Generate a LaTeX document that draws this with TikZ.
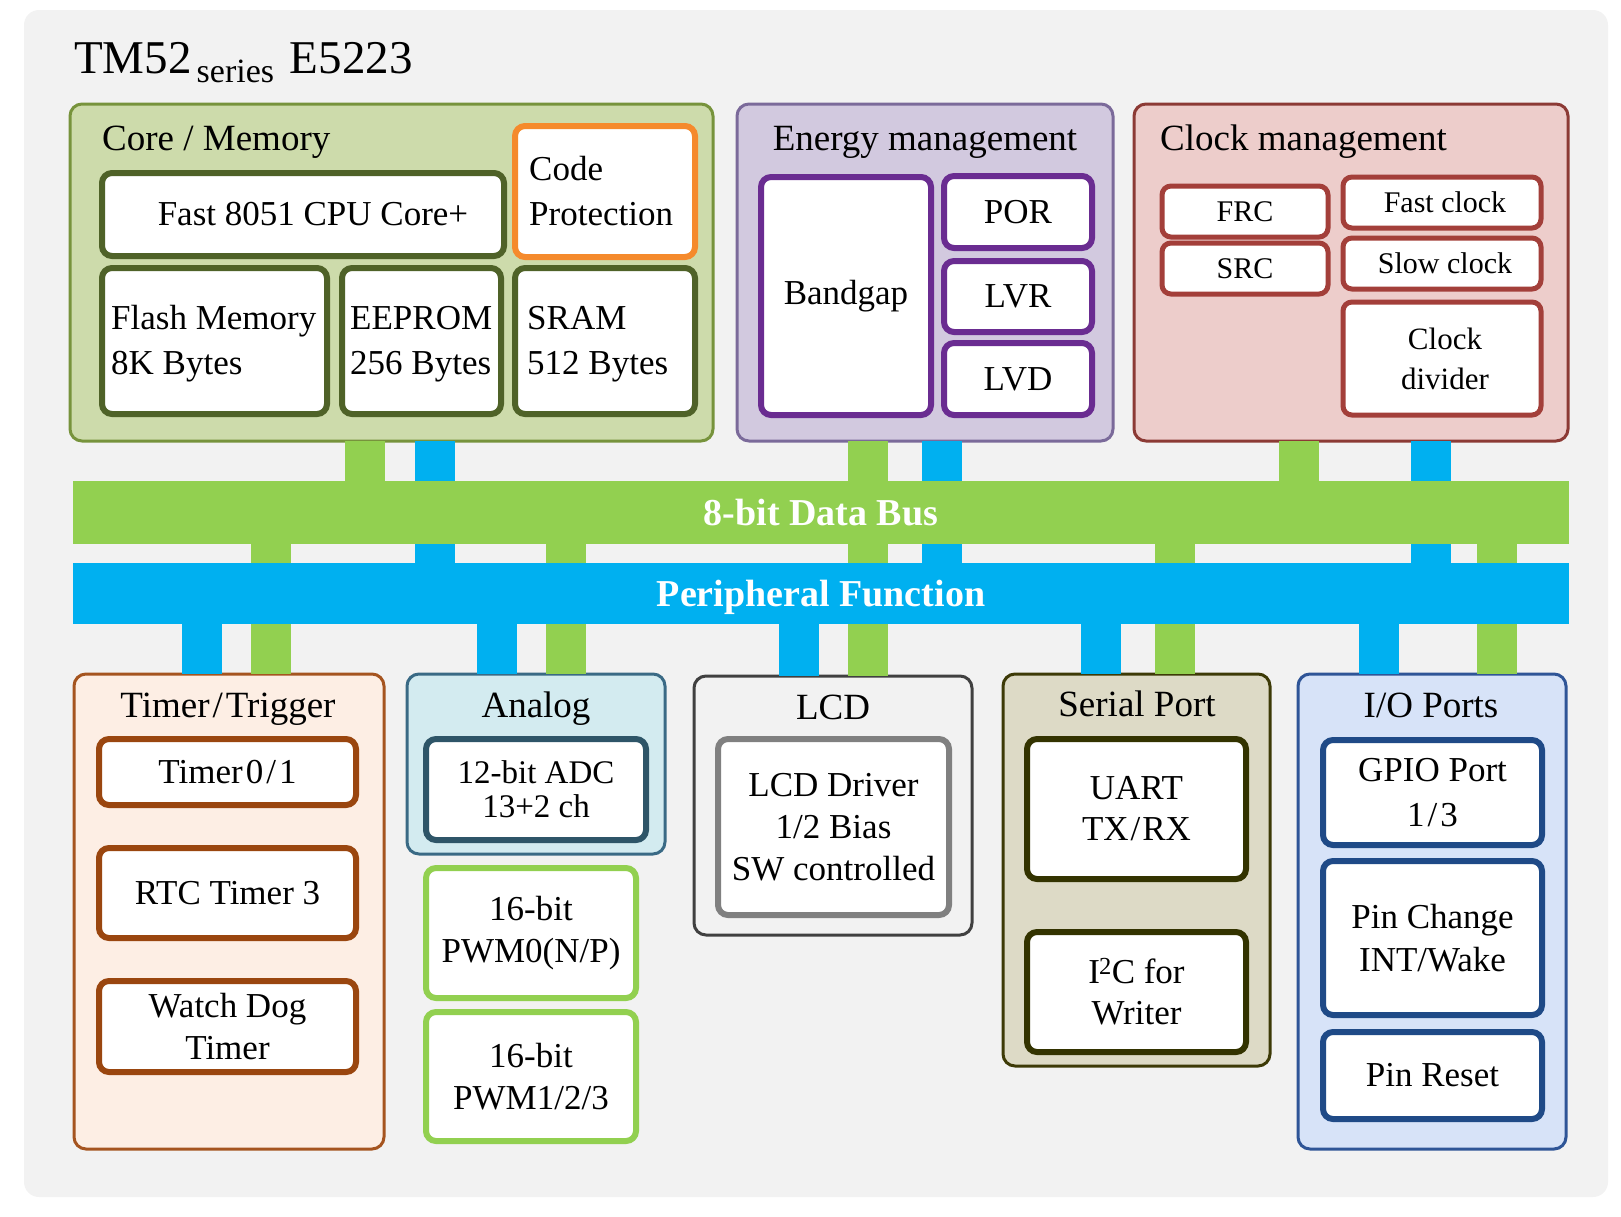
\documentclass[tikz,border=0pt]{standalone}
\usepackage{fontspec}
\setmainfont{Liberation Serif}
\definecolor{bgc}{HTML}{F2F2F2}
\definecolor{busg}{HTML}{92D050}
\definecolor{busb}{HTML}{00B0F0}
\definecolor{coreF}{HTML}{CDDBAB}
\definecolor{coreD}{HTML}{77933C}
\definecolor{coreI}{HTML}{4F6228}
\definecolor{codeO}{HTML}{F58A2C}
\definecolor{enF}{HTML}{D2C9DF}
\definecolor{enD}{HTML}{7B6A9A}
\definecolor{enI}{HTML}{6A2C91}
\definecolor{clF}{HTML}{EDCDCB}
\definecolor{clD}{HTML}{8C3A35}
\definecolor{clI}{HTML}{A33F3A}
\definecolor{tmF}{HTML}{FDEEE4}
\definecolor{tmD}{HTML}{A5541F}
\definecolor{tmI}{HTML}{9A460F}
\definecolor{anF}{HTML}{D3EBF0}
\definecolor{anD}{HTML}{3A6A85}
\definecolor{anI}{HTML}{2E5568}
\definecolor{lcdD}{HTML}{404040}
\definecolor{lcdI}{HTML}{808080}
\definecolor{spF}{HTML}{DDDAC6}
\definecolor{spD}{HTML}{3D3A07}
\definecolor{spI}{HTML}{333300}
\definecolor{ioF}{HTML}{D7E3F8}
\definecolor{ioD}{HTML}{2F5597}
\definecolor{ioI}{HTML}{1F4A87}
\begin{document}
\begin{tikzpicture}[x=1pt,y=-1pt,
  bb/.style n args={4}{anchor=north west, at={(#1,#2)}, minimum width={#3-#1}, minimum height={#4-#2}},
  grp/.style={draw, line width=3pt, rounded corners=12pt, inner sep=0pt, outer sep=0pt},
  ibox/.style={draw, fill=white, line width=6pt, rounded corners=10pt, inner sep=0pt, outer sep=0pt, align=center},
  cbox/.style={draw, fill=white, line width=5pt, rounded corners=9pt, inner sep=0pt, outer sep=0pt, align=center, font=\fontsize{30}{36}\selectfont},
  ttl/.style={inner sep=0pt, font=\fontsize{37}{44}\selectfont},
  txt/.style={font=\fontsize{35}{42}\selectfont},
  ltxt/.style={inner sep=0pt, anchor=west, align=left, font=\fontsize{35}{45}\selectfont},
  gstub/.style={draw=busg, line width=40pt},
  bstub/.style={draw=busb, line width=40pt},
  bus/.style={inner sep=0pt, outer sep=0pt, text=white, text height=26pt, text depth=0pt, font=\fontsize{38}{44}\selectfont\bfseries}]
\useasboundingbox (0,0) rectangle (1621,1216);
\fill[bgc, rounded corners=15pt] (24,10) rectangle (1608,1197);
\node[anchor=base west, inner sep=0pt, font=\fontsize{47}{50}\selectfont] (title) at (74,73)
  {TM52\kern5pt\raisebox{-9pt}{\fontsize{34}{36}\selectfont series}\kern4pt{} E5223};

% stub x positions
\coordinate (xa) at (365,0); \coordinate (xb) at (435,0);
\coordinate (xc) at (868,0); \coordinate (xd) at (942,0);
\coordinate (xe) at (1299,0); \coordinate (xf) at (1431,0);
\coordinate (xg) at (202,0); \coordinate (xh) at (271,0);
\coordinate (xi) at (497,0); \coordinate (xj) at (566,0);
\coordinate (xk) at (799,0);
\coordinate (xl) at (1101,0); \coordinate (xm) at (1175,0);
\coordinate (xn) at (1379,0); \coordinate (xo) at (1497,0);

% module group boxes (top)
\node[grp, fill=coreF, draw=coreD, bb={70}{104}{713}{441}] (core) {};
\node[grp, fill=enF, draw=enD, bb={737}{104}{1113}{441}] (energy) {};
\node[grp, fill=clF, draw=clD, bb={1134}{104}{1568}{441}] (clock) {};
% bottom groups
\node[grp, fill=tmF, draw=tmD, bb={74}{674}{384}{1149}] (timer) {};
\node[grp, fill=anF, draw=anD, bb={407}{674}{665}{854}] (analog) {};
\node[grp, fill=bgc, draw=lcdD, bb={694}{676}{972}{935}] (lcd) {};
\node[grp, fill=spF, draw=spD, bb={1003}{674}{1270}{1066}] (serial) {};
\node[grp, fill=ioF, draw=ioD, bb={1298}{674}{1566}{1149}] (io) {};

% bus outlines (for anchors)
\node[bus, bb={73}{481}{1569}{544}] (gbus) {};
\node[bus, bb={73}{563}{1569}{624}] (bbus) {};

% stubs (drawn before the buses)
\draw[gstub] (core.south -| xa) -- (gbus.north -| xa);
\draw[bstub] (core.south -| xb) -- (bbus.north -| xb);
\draw[gstub] (energy.south -| xc) -- (gbus.north -| xc);
\draw[bstub] (energy.south -| xd) -- (bbus.north -| xd);
\draw[gstub] (clock.south -| xe) -- (gbus.north -| xe);
\draw[bstub] (clock.south -| xf) -- (bbus.north -| xf);
\draw[bstub] (bbus.south -| xg) -- (timer.north -| xg);
\draw[gstub] (gbus.south -| xh) -- (timer.north -| xh);
\draw[bstub] (bbus.south -| xi) -- (analog.north -| xi);
\draw[gstub] (gbus.south -| xj) -- (analog.north -| xj);
\draw[bstub] (bbus.south -| xk) -- (lcd.north -| xk);
\draw[gstub] (gbus.south -| xc) -- (lcd.north -| xc);
\draw[bstub] (bbus.south -| xl) -- (serial.north -| xl);
\draw[gstub] (gbus.south -| xm) -- (serial.north -| xm);
\draw[bstub] (bbus.south -| xn) -- (io.north -| xn);
\draw[gstub] (gbus.south -| xo) -- (io.north -| xo);

% buses on top
\node[bus, fill=busg, bb={73}{481}{1569}{544}] (gbusf) {8-bit Data Bus};
\node[bus, fill=busb, bb={73}{563}{1569}{624}] (bbusf) {Peripheral Function};

% Core / Memory
\node[ttl, anchor=base west] (coret) at (102,150) {Core / Memory};
\node[ibox, draw=coreI, txt, bb={102}{173}{504}{256}] (cpu) {\hspace*{20pt}Fast 8051 CPU Core+};
\node[ibox, draw=codeO, bb={515}{126}{695}{257}] (code) {};
\node[ltxt] (codet) at ([xshift=14pt]code.west) {Code\\Protection};
\node[ibox, draw=coreI, bb={102}{268}{327}{414}] (flash) {};
\node[ltxt] (flasht) at ([xshift=9pt,yshift=-3pt]flash.west) {Flash Memory\\8K Bytes};
\node[ibox, draw=coreI, bb={342}{268}{501}{414}] (eeprom) {};
\node[ltxt] (eepromt) at ([xshift=8pt,yshift=-3pt]eeprom.west) {EEPROM\\256 Bytes};
\node[ibox, draw=coreI, bb={515}{268}{695}{414}] (sram) {};
\node[ltxt] (sramt) at ([xshift=12pt,yshift=-3pt]sram.west) {SRAM\\512 Bytes};

% Energy management
\node[ttl, anchor=base] (ent) at (925,150) {Energy management};
\node[ibox, draw=enI, txt, bb={761}{177}{931}{415}] (bandgap) {Bandgap};
\node[ibox, draw=enI, txt, bb={944}{176}{1092}{248}] (por) {POR};
\node[ibox, draw=enI, txt, bb={944}{261}{1092}{332}] (lvr) {LVR};
\node[ibox, draw=enI, txt, bb={944}{343}{1092}{415}] (lvd) {LVD};

% Clock management
\node[ttl, anchor=base west] (clt) at (1160,150) {Clock management};
\node[cbox, draw=clI, bb={1162}{186}{1328}{237}] (frc) {FRC};
\node[cbox, draw=clI, bb={1162}{243}{1328}{294}] (src) {SRC};
\node[cbox, draw=clI, bb={1343}{177}{1541}{228}] (fast) {\hspace*{6pt}Fast clock};
\node[cbox, draw=clI, bb={1343}{238}{1541}{289}] (slow) {\hspace*{6pt}Slow clock};
\node[cbox, draw=clI, font=\fontsize{31}{40}\selectfont, bb={1343}{302}{1541}{415}] (div) {\hspace*{6pt}Clock\\\hspace*{6pt}divider};

% Timer/Trigger
\node[ttl, anchor=base] (tmt) at (228,717) {Timer\kern3pt/\kern3pt Trigger};
\node[ibox, draw=tmI, txt, bb={99}{739}{356}{805}] (t01) {Timer\kern3pt 0\kern3pt/\kern3pt 1};
\node[ibox, draw=tmI, txt, bb={99}{848}{356}{938}] (rtc) {RTC Timer 3};
\node[ibox, draw=tmI, txt, bb={99}{981}{356}{1072}] (wdt) {Watch Dog\\Timer};

% Analog
\node[ttl, anchor=base] (ant) at (536,717) {Analog};
\node[ibox, draw=anI, font=\fontsize{33}{34}\selectfont, bb={426}{739}{646}{840}] (adc) {12-bit ADC\\13+2 ch};
\node[ibox, draw=busg, txt, bb={426}{868}{636}{998}] (pwm0) {16-bit\\PWM0(N/P)};
\node[ibox, draw=busg, txt, bb={426}{1012}{636}{1141}] (pwm1) {16-bit\\PWM1/2/3};

% LCD
\node[ttl, anchor=base] (lcdt) at (833,719) {LCD};
\node[ibox, draw=lcdI, txt, bb={718}{739}{949}{915}] (lcddrv) {LCD Driver\\1/2 Bias\\SW controlled};

% Serial Port
\node[ttl, anchor=base] (spt) at (1137,716) {Serial Port};
\node[ibox, draw=spI, txt, font=\fontsize{35}{41}\selectfont, bb={1027}{739}{1246}{879}] (uart) {UART\\TX\kern2pt/\kern2pt RX};
\node[ibox, draw=spI, txt, font=\fontsize{35}{41}\selectfont, bb={1027}{932}{1246}{1052}] (i2c) {I\kern-1pt\textsuperscript{2}C for\\Writer};

% I/O Ports
\node[ttl, anchor=base] (iot) at (1431,717) {I/O Ports};
\node[ibox, draw=ioI, txt, font=\fontsize{35}{45}\selectfont, bb={1323}{740}{1542}{845}] (gpio) {GPIO Port\\1\kern3pt/\kern3pt 3};
\node[ibox, draw=ioI, txt, font=\fontsize{35}{43}\selectfont, bb={1323}{861}{1542}{1015}] (pinc) {Pin Change\\INT/Wake};
\node[ibox, draw=ioI, txt, bb={1323}{1032}{1542}{1119}] (pinr) {Pin Reset};
\end{tikzpicture}
\end{document}
